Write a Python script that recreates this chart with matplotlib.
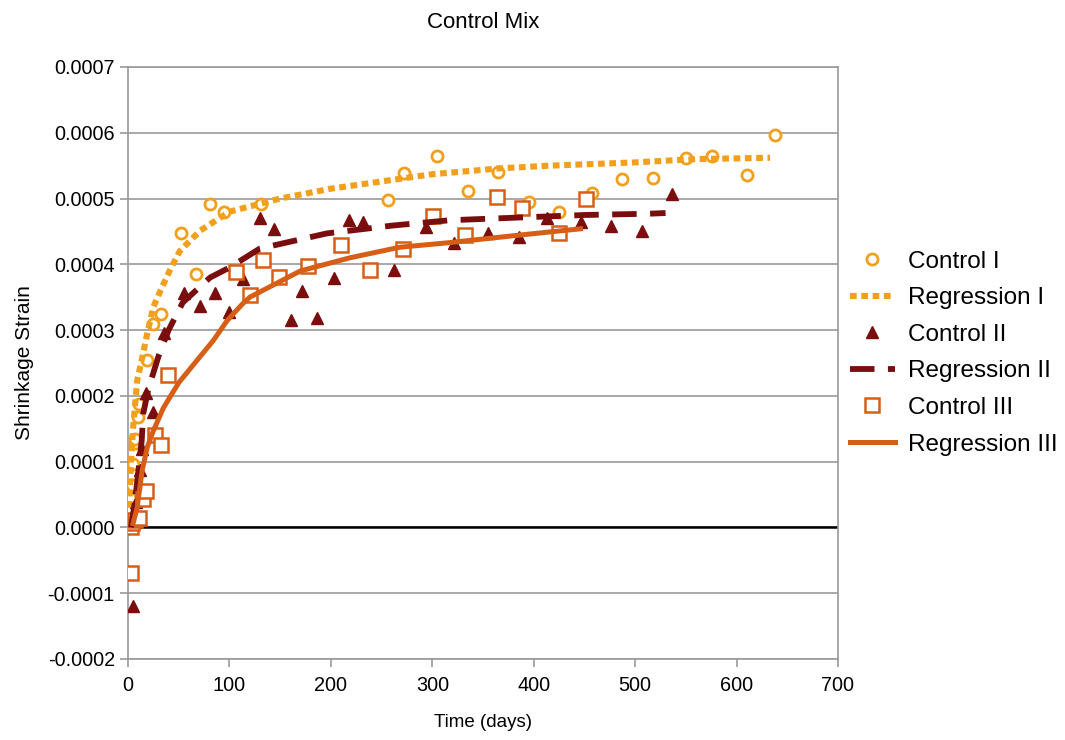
import matplotlib
matplotlib.use("Agg")
import matplotlib.pyplot as plt
from matplotlib.ticker import FuncFormatter, MultipleLocator

plt.rcParams['font.family'] = ['Liberation Sans', 'DejaVu Sans']

# ---- data (strain in units of 1e-4) ----
c1_days = [1, 2, 4, 5, 7, 7, 10, 11, 19, 25, 33, 52, 67, 81, 95, 131, 256, 272, 305, 335,
           365, 395, 425, 457, 487, 518, 550, 576, 610, 638]
c1_vals = [0.3, 0.45, 0.64, 0.97, 1.28, 1.35, 1.68, 1.88, 2.54, 3.1, 3.25, 4.47, 3.86, 4.92,
           4.79, 4.91, 4.98, 5.39, 5.65, 5.11, 5.41, 4.95, 4.79, 5.08, 5.29, 5.32, 5.62, 5.64,
           5.36, 5.96]

r1_days = [1, 3, 5, 9, 14, 19, 25, 32, 41, 51, 71, 100, 150, 200, 268, 300, 367, 416, 500,
           560, 633]
r1_vals = [0.3, 1.0, 1.5, 2.23, 2.58, 2.95, 3.35, 3.6, 3.9, 4.2, 4.51, 4.8, 5.0, 5.15, 5.3,
           5.37, 5.46, 5.5, 5.55, 5.6, 5.62]

c2_days = [5, 7, 8, 10, 12, 14, 18, 25, 35, 55, 71, 86, 100, 113, 130, 144, 161, 172, 186,
           203, 218, 232, 262, 294, 321, 355, 385, 413, 447, 476, 507, 536]
c2_vals = [-1.19, 0.08, 0.38, 0.61, 0.87, 1.2, 2.05, 1.75, 2.95, 3.57, 3.37, 3.57, 3.27, 3.78,
           4.7, 4.53, 3.16, 3.6, 3.18, 3.79, 4.67, 4.65, 3.92, 4.57, 4.33, 4.47, 4.42, 4.7,
           4.64, 4.59, 4.51, 5.07]

r2_days = [3, 7, 10, 13.5, 15, 20, 26, 30, 40, 54, 81, 100, 130, 196, 261, 317, 383, 450,
           515, 530]
r2_vals = [0.0, 0.41, 0.82, 1.32, 1.73, 2.1, 2.4, 2.6, 3.0, 3.42, 3.8, 3.95, 4.24, 4.47, 4.59,
           4.67, 4.71, 4.75, 4.77, 4.78]

c3_days = [3, 3, 4, 7, 11, 15, 18, 27, 33, 39, 106, 120, 133, 149, 177, 210, 239, 271, 301,
           332, 364, 388, 425, 452]
c3_vals = [-0.7, 0.0, 0.06, 0.12, 0.15, 0.44, 0.56, 1.4, 1.25, 2.31, 3.89, 3.54, 4.07, 3.81,
           3.97, 4.29, 3.92, 4.24, 4.74, 4.45, 5.02, 4.86, 4.48, 5.0]

r3_days = [5, 9, 14, 19, 25, 35, 50, 68, 84, 98, 113, 120, 170, 219, 268, 317, 383, 446]
r3_vals = [0.06, 0.3, 0.87, 1.22, 1.47, 1.82, 2.2, 2.54, 2.84, 3.15, 3.4, 3.5, 3.9, 4.1, 4.26,
           4.33, 4.44, 4.54]

scale = 1e-4
col1 = '#F2A01C'
col2 = '#7A0E0E'
col3 = '#D65E16'

fig = plt.figure(figsize=(10.65, 7.4), dpi=100)
ax = fig.add_axes([128/1065, 1-659/740, (838-128)/1065, (659-67)/740])

ax.set_xlim(0, 700)
ax.set_ylim(-0.0002, 0.0007)
ax.yaxis.set_major_locator(MultipleLocator(0.0001))
ax.xaxis.set_major_locator(MultipleLocator(100))

def yfmt(v, p):
    if abs(v) < 1e-9:
        return '0.0000'
    return f'{v:.4f}'
ax.yaxis.set_major_formatter(FuncFormatter(yfmt))

ax.grid(axis='y', color='#9a9a9a', lw=1.2)
ax.set_axisbelow(True)
ax.axhline(0, color='black', lw=1.8, zorder=1)
for sp in ax.spines.values():
    sp.set_color('#9a9a9a')
    sp.set_linewidth(1.2)

s = lambda arr: [v * scale for v in arr]

h_c1, = ax.plot(c1_days, s(c1_vals), 'o', ms=8, mfc='white', mec=col1, mew=2, ls='none',
                label='Control I', zorder=3)
h_r1, = ax.plot(r1_days, s(r1_vals), color=col1, lw=4.4, ls=(0, (1.1, 0.75)),
                dash_capstyle='butt', label='Regression I', zorder=4)
h_c2, = ax.plot(c2_days, s(c2_vals), '^', ms=9, color=col2, ls='none', label='Control II',
                zorder=3)
h_r2, = ax.plot(r2_days, s(r2_vals), color=col2, lw=4.2, ls=(0, (4.2, 2.3)),
                dash_capstyle='butt', label='Regression II', zorder=4)
h_c3, = ax.plot(c3_days, s(c3_vals), 's', ms=10, mfc='white', mec=col3, mew=1.8, ls='none',
                label='Control III', zorder=3)
h_r3, = ax.plot(r3_days, s(r3_vals), color=col3, lw=3.6, label='Regression III', zorder=4)

ax.tick_params(axis='both', labelsize=14.3, color='#9a9a9a', length=6, width=1.2)
ax.tick_params(axis='x', pad=6)
ax.set_title('Control Mix', fontsize=16, pad=28)
ax.set_xlabel('Time (days)', fontsize=13.5, labelpad=14)
ax.set_ylabel('Shrinkage Strain', fontsize=15, labelpad=10)

leg = fig.legend(handles=[h_c1, h_r1, h_c2, h_r2, h_c3, h_r3],
                 loc='center left', bbox_to_anchor=(828/1065, 1-353/740),
                 frameon=False, fontsize=17.5, handlelength=1.85, labelspacing=0.6,
                 handletextpad=0.55, markerscale=1.0)

fig.savefig('out.png', dpi=100)
